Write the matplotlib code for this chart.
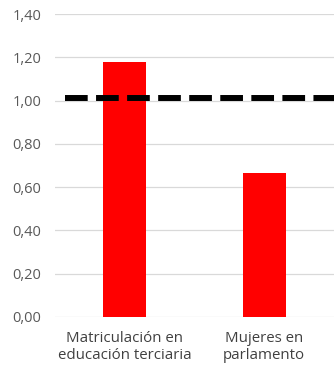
import matplotlib
matplotlib.use("Agg")
import matplotlib.pyplot as plt
from matplotlib.ticker import FuncFormatter

categories = ["Matriculación en\neducación terciaria", "Mujeres en\nparlamento"]
values = [1.18, 0.665]
parity_level = 1.01
yticks = [0.0, 0.2, 0.4, 0.6, 0.8, 1.0, 1.2, 1.4]

plt.rcParams["font.family"] = ["Open Sans", "DejaVu Sans"]

fig = plt.figure(figsize=(3.34, 3.68), dpi=100)
ax = fig.add_axes([55 / 334, 1 - 317 / 368, 1 - 55 / 334, (317 - 14) / 368])

x = list(range(len(categories)))
ax.bar(x, values, width=0.31, color="#ff0000", zorder=2)
ax.plot([-0.43, 1.5], [parity_level, parity_level], color="black", lw=4.3,
        dashes=(3.8, 1.4), solid_capstyle="butt", dash_capstyle="butt", zorder=3)

ax.set_xlim(-0.5, 1.5)
ax.set_ylim(0, 1.4)
ax.set_yticks(yticks)
ax.yaxis.set_major_formatter(FuncFormatter(lambda v, p: f"{v:.2f}".replace(".", ",")))
ax.set_xticks(x)
ax.set_xticklabels(categories, fontsize=10.8, color="#404040", linespacing=1.15)
ax.tick_params(axis="y", labelsize=10.5, labelcolor="#595959", length=0, pad=10)
ax.tick_params(axis="x", length=0, pad=10)
ax.grid(axis="y", color="#d9d9d9", lw=0.9, zorder=0)
for s in ax.spines.values():
    s.set_visible(False)

fig.savefig("out.png", dpi=100)
